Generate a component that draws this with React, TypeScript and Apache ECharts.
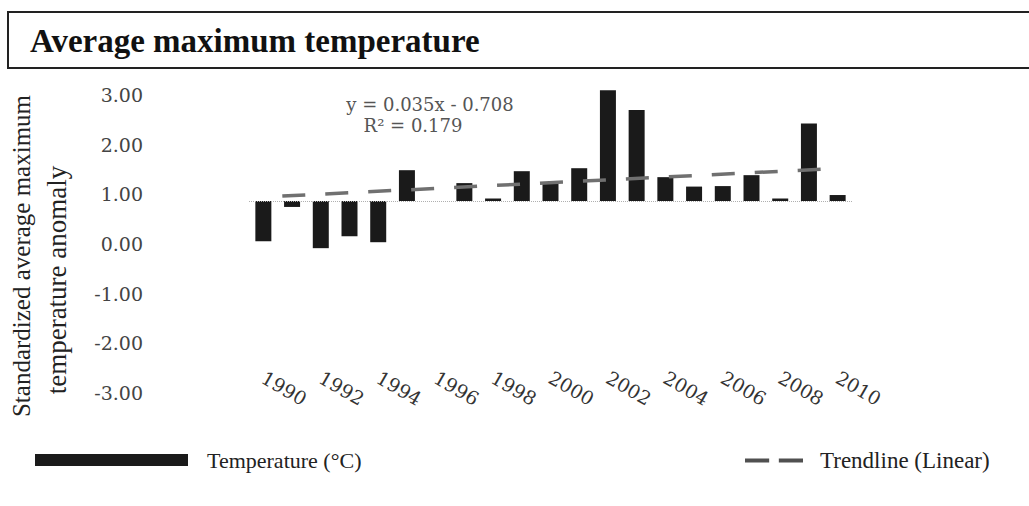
import React, { useEffect, useRef } from "react";
import * as echarts from "echarts";

// ---- data ----
const years = [
  "1990", "1991", "1992", "1993", "1994", "1995", "1996", "1997", "1998", "1999",
  "2000", "2001", "2002", "2003", "2004", "2005", "2006", "2007", "2008", "2009", "2010",
];
const temperature = [
  -0.81, -0.12, -0.95, -0.71, -0.83, 0.62, 0.0, 0.36, 0.05, 0.6,
  0.38, 0.66, 2.23, 1.83, 0.48, 0.29, 0.3, 0.52, 0.05, 1.56, 0.12,
];
// trendline end points (year position, value) as drawn
const trendYears = [1990.66, 2009.48];
const trendValues = [0.1, 0.64];
const yTickMin = -3;
const yTickMax = 3;
const titleText = "Average maximum temperature";
const equationLines = ["y = 0.035x - 0.708", "R\u00b2 = 0.179"];
const axisTitleLines = ["Standardized average maximum", "temperature anomaly"];
const seriesNames = ["Temperature (\u00b0C)", "Trendline (Linear)"];

export default function App() {
  const ref = useRef<HTMLDivElement>(null);
  useEffect(() => {
    if (!ref.current) return;
    const chart = echarts.init(ref.current, undefined, { renderer: "svg" });
    const serif = "Liberation Serif";
    const numFont = "DejaVu Serif";
    const option: any = {
      animation: false,
      backgroundColor: "#ffffff",
      title: {
        text: titleText,
        left: 30,
        top: 24,
        padding: 0,
        textStyle: { fontFamily: serif, fontWeight: "bold", fontSize: 33, color: "#111" },
      },
      legend: [
        {
          data: [{ name: seriesNames[0], icon: "rect" }],
          left: 35,
          top: 449,
          padding: 0,
          selectedMode: false,
          itemWidth: 153,
          itemHeight: 12,
          textStyle: { fontFamily: serif, fontSize: 22, color: "#222", padding: [0, 0, 0, 14] },
        },
        {
          data: [{ name: seriesNames[1], icon: "path://M0,0h25v4h-25z M35,0h25v4h-25z" }],
          left: 745,
          top: 449,
          padding: 0,
          selectedMode: false,
          itemWidth: 58,
          itemHeight: 4,
          itemStyle: { color: "#505050" },
          textStyle: { fontFamily: serif, fontSize: 23, color: "#222", padding: [0, 0, 0, 12] },
        },
      ],
      grid: { left: 249, right: 177, top: 95, bottom: 113 },
      xAxis: [
        {
          type: "category",
          data: years,
          axisLine: { show: false },
          axisTick: { show: false },
          splitLine: { show: false },
          axisLabel: {
            interval: 1,
            rotate: -30,
            margin: -17,
            fontFamily: numFont,
            fontSize: 19,
            color: "#333",
          },
        },
        { type: "value", min: 1989.5, max: 2010.5, show: false },
      ],
      yAxis: [
        {
          type: "value",
          min: yTickMin,
          max: yTickMax,
          interval: 1,
          axisLine: { show: false },
          axisTick: { show: false },
          splitLine: { show: false },
          axisLabel: {
            margin: 106,
            fontFamily: numFont,
            fontSize: 19,
            color: "#444",
            formatter: (v: number) => v.toFixed(2),
          },
        },
        { type: "value", min: -3.866, max: 2.134, show: false },
      ],
      series: [
        {
          name: seriesNames[0],
          type: "bar",
          xAxisIndex: 0,
          yAxisIndex: 1,
          data: temperature,
          barWidth: 16,
          clip: false,
          itemStyle: { color: "#1a1a1a" },
          markLine: {
            silent: true,
            symbol: "none",
            label: { show: false },
            lineStyle: { color: "#b0b0b0", type: "dotted", width: 1 },
            data: [{ yAxis: 0 }],
          },
        },
        {
          name: seriesNames[1],
          type: "line",
          xAxisIndex: 1,
          yAxisIndex: 1,
          data: trendYears.map((x, i) => [x, trendValues[i]]),
          symbol: "none",
          showSymbol: false,
          clip: false,
          lineStyle: { color: "#707070", width: 3.5, type: [23, 20] },
          itemStyle: { color: "#505050" },
          z: 5,
        },
      ],
      graphic: [
        {
          type: "rect",
          shape: { x: 8, y: 12, width: 1040, height: 56 },
          style: { fill: "none", stroke: "#222", lineWidth: 2 },
        },
        {
          type: "text",
          x: 430,
          y: 104,
          style: {
            text: equationLines[0],
            fontFamily: numFont,
            fontSize: 18,
            fill: "#555",
            align: "center",
            verticalAlign: "middle",
          },
        },
        {
          type: "text",
          x: 413,
          y: 125,
          style: {
            text: equationLines[1],
            fontFamily: numFont,
            fontSize: 18,
            fill: "#555",
            align: "center",
            verticalAlign: "middle",
          },
        },
        {
          type: "text",
          x: 21,
          y: 256,
          rotation: Math.PI / 2,
          style: {
            text: axisTitleLines[0],
            fontFamily: serif,
            fontSize: 25,
            fill: "#222",
            align: "center",
            verticalAlign: "middle",
          },
        },
        {
          type: "text",
          x: 57,
          y: 280,
          rotation: Math.PI / 2,
          style: {
            text: axisTitleLines[1],
            fontFamily: serif,
            fontSize: 27,
            fill: "#222",
            align: "center",
            verticalAlign: "middle",
          },
        },
      ],
    };
    chart.setOption(option);
    return () => chart.dispose();
  }, []);
  return (
    <div
      ref={ref}
      style={{ position: "fixed", left: 0, top: 0, width: 1029, height: 506, background: "#fff" }}
    />
  );
}
